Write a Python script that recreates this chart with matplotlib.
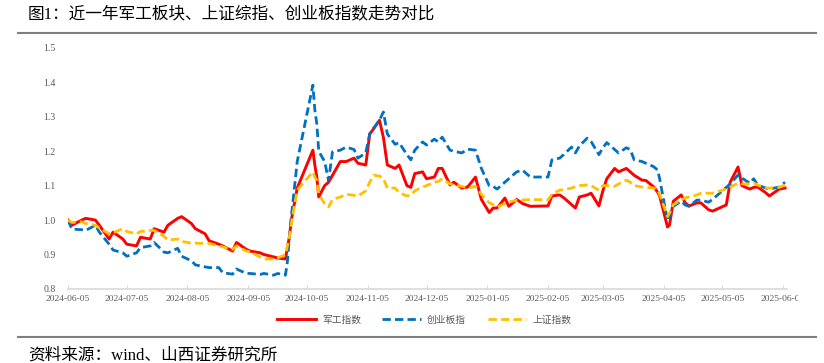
import pandas as pd
import matplotlib.pyplot as plt
import matplotlib.dates as mdates
from matplotlib.transforms import Bbox, TransformedBbox

plt.rcParams['font.family'] = ['Liberation Serif', 'Noto Sans CJK SC', 'DejaVu Sans']

# trading dates sampled from the chart
dates = [
    '2024-06-05', '2024-06-07', '2024-06-12', '2024-06-14', '2024-06-19', '2024-06-21',
    '2024-06-26', '2024-06-28', '2024-07-03', '2024-07-05', '2024-07-10', '2024-07-12',
    '2024-07-17', '2024-07-19', '2024-07-24', '2024-07-26', '2024-07-31', '2024-08-02',
    '2024-08-07', '2024-08-09', '2024-08-14', '2024-08-16', '2024-08-21', '2024-08-23',
    '2024-08-28', '2024-08-30', '2024-09-04', '2024-09-06', '2024-09-11', '2024-09-13',
    '2024-09-18', '2024-09-20', '2024-09-24', '2024-09-25', '2024-09-26', '2024-09-27',
    '2024-09-30', '2024-10-08', '2024-10-09', '2024-10-10', '2024-10-11', '2024-10-14',
    '2024-10-16', '2024-10-18', '2024-10-22', '2024-10-25', '2024-10-29', '2024-10-31',
    '2024-11-04', '2024-11-06', '2024-11-08', '2024-11-11', '2024-11-13', '2024-11-15',
    '2024-11-19', '2024-11-21', '2024-11-25', '2024-11-27', '2024-11-29', '2024-12-03',
    '2024-12-05', '2024-12-09', '2024-12-11', '2024-12-13', '2024-12-17', '2024-12-19',
    '2024-12-23', '2024-12-26', '2024-12-30', '2025-01-02', '2025-01-06', '2025-01-08',
    '2025-01-10', '2025-01-14', '2025-01-16', '2025-01-20', '2025-01-23', '2025-01-27',
    '2025-02-05', '2025-02-07', '2025-02-11', '2025-02-13', '2025-02-17', '2025-02-19',
    '2025-02-21', '2025-02-25', '2025-02-27', '2025-03-03', '2025-03-05', '2025-03-07',
    '2025-03-11', '2025-03-13', '2025-03-17', '2025-03-19', '2025-03-21', '2025-03-25',
    '2025-03-27', '2025-03-31', '2025-04-02', '2025-04-03', '2025-04-07', '2025-04-08',
    '2025-04-10', '2025-04-14', '2025-04-16', '2025-04-18', '2025-04-22', '2025-04-24',
    '2025-04-28', '2025-04-30', '2025-05-07', '2025-05-09', '2025-05-13', '2025-05-15',
    '2025-05-19', '2025-05-21', '2025-05-23', '2025-05-27', '2025-05-29', '2025-06-03',
    '2025-06-06',
]

military = [
    1.000, 0.985, 1.000, 1.005, 1.000, 0.985,
    0.945, 0.965, 0.945, 0.930, 0.925, 0.950,
    0.945, 0.975, 0.965, 0.985, 1.005, 1.010,
    0.990, 0.975, 0.960, 0.940, 0.930, 0.925,
    0.910, 0.935, 0.915, 0.910, 0.905, 0.900,
    0.893, 0.890, 0.887, 0.920, 0.950, 1.000,
    1.093, 1.203, 1.160, 1.125, 1.067, 1.100,
    1.110, 1.130, 1.170, 1.170, 1.180, 1.165,
    1.160, 1.250, 1.265, 1.290, 1.240, 1.160,
    1.150, 1.160, 1.100, 1.095, 1.135, 1.140,
    1.120, 1.125, 1.150, 1.150, 1.102, 1.110,
    1.093, 1.096, 1.125, 1.060, 1.022, 1.035,
    1.035, 1.064, 1.040, 1.060, 1.048, 1.040,
    1.041, 1.070, 1.073, 1.065, 1.045, 1.035,
    1.067, 1.073, 1.078, 1.041, 1.085, 1.120,
    1.150, 1.140, 1.150, 1.140, 1.130, 1.116,
    1.115, 1.096, 1.081, 1.070, 0.980, 0.985,
    1.055, 1.073, 1.050, 1.041, 1.050, 1.050,
    1.030, 1.026, 1.044, 1.110, 1.154, 1.100,
    1.090, 1.095, 1.096, 1.080, 1.070, 1.090,
    1.093,
]

chinext = [
    1.000, 0.974, 0.972, 0.970, 0.985, 0.965,
    0.930, 0.913, 0.905, 0.895, 0.905, 0.920,
    0.925, 0.935, 0.907, 0.905, 0.918, 0.895,
    0.882, 0.870, 0.864, 0.862, 0.862, 0.847,
    0.843, 0.858, 0.845, 0.845, 0.842, 0.845,
    0.840, 0.845, 0.840, 0.880, 0.950, 1.010,
    1.170, 1.392, 1.320, 1.280, 1.200, 1.170,
    1.115, 1.198, 1.203, 1.212, 1.205, 1.180,
    1.195, 1.250, 1.267, 1.290, 1.314, 1.250,
    1.220, 1.225, 1.190, 1.175, 1.203, 1.227,
    1.218, 1.235, 1.227, 1.241, 1.203, 1.200,
    1.195, 1.206, 1.203, 1.150, 1.100, 1.098,
    1.090, 1.110, 1.120, 1.140, 1.145, 1.125,
    1.125, 1.175, 1.180, 1.190, 1.212, 1.195,
    1.215, 1.238, 1.228, 1.190, 1.210, 1.225,
    1.205, 1.195, 1.210, 1.205, 1.175, 1.170,
    1.165, 1.155, 1.145, 1.120, 0.998, 1.010,
    1.040, 1.055, 1.044, 1.040, 1.058, 1.058,
    1.052, 1.060, 1.095, 1.105, 1.131, 1.122,
    1.107, 1.120, 1.102, 1.093, 1.090, 1.096,
    1.110,
]

shanghai = [
    1.000, 0.993, 0.995, 0.990, 0.985, 0.977,
    0.960, 0.963, 0.975, 0.967, 0.960, 0.967,
    0.970, 0.970, 0.953, 0.942, 0.945, 0.938,
    0.933, 0.933, 0.932, 0.932, 0.925, 0.922,
    0.915, 0.925, 0.910, 0.908, 0.893, 0.887,
    0.887, 0.890, 0.900, 0.925, 0.950, 0.990,
    1.087, 1.140, 1.125, 1.115, 1.075, 1.048,
    1.038, 1.060, 1.067, 1.075, 1.072, 1.070,
    1.085, 1.110, 1.130, 1.128, 1.120, 1.093,
    1.093, 1.080, 1.070, 1.072, 1.085, 1.096,
    1.100, 1.110, 1.112, 1.120, 1.105, 1.102,
    1.098, 1.093, 1.098, 1.075, 1.050, 1.045,
    1.038, 1.048, 1.052, 1.058, 1.058, 1.060,
    1.058, 1.075, 1.087, 1.088, 1.093, 1.097,
    1.100, 1.102, 1.100, 1.087, 1.100, 1.100,
    1.098, 1.105, 1.116, 1.110, 1.100, 1.096,
    1.095, 1.093, 1.088, 1.075, 1.010, 1.020,
    1.045, 1.058, 1.065, 1.067, 1.073, 1.078,
    1.078, 1.078, 1.090, 1.096, 1.107, 1.105,
    1.105, 1.108, 1.102, 1.093, 1.093, 1.095,
    1.102,
]

tick_dates = ['2024-06-05', '2024-07-05', '2024-08-05', '2024-09-05', '2024-10-05',
              '2024-11-05', '2024-12-05', '2025-01-05', '2025-02-05', '2025-03-05',
              '2025-04-05', '2025-05-05', '2025-06-05']

x = pd.to_datetime(dates)
grey = '#595959'

fig = plt.figure(figsize=(8.24, 3.63), dpi=100)
ax = fig.add_axes([0.0825, 0.204, 0.8726, 0.664])

ax.plot(x, military, color='#FF0000', lw=2.1, label='军工指数', zorder=2)
ax.plot(x, chinext, color='#0070C0', lw=2.0, dashes=(3, 1.5), label='创业板指', zorder=3)
ax.plot(x, shanghai, color='#FFC000', lw=2.0, dashes=(3, 1.5), label='上证指数', zorder=4)

ax.set_ylim(0.8, 1.5)
ax.set_yticks([0.8, 0.9, 1.0, 1.1, 1.2, 1.3, 1.4, 1.5])
ax.yaxis.set_major_formatter(plt.FormatStrFormatter('%.1f'))
ax.set_xlim(pd.Timestamp('2024-06-05'), pd.Timestamp('2025-06-07'))
ax.set_xticks(pd.to_datetime(tick_dates))
ax.xaxis.set_major_formatter(mdates.DateFormatter('%Y-%m-%d'))

for s in ['top', 'right', 'left']:
    ax.spines[s].set_visible(False)
ax.spines['bottom'].set_color('#D9D9D9')
ax.spines['bottom'].set_linewidth(1.2)
ax.tick_params(axis='y', length=0, pad=9, labelsize=7, labelcolor=grey)
ax.tick_params(axis='x', direction='in', length=3, color='#D9D9D9', pad=4,
               labelsize=6.8, labelcolor=grey)

# the source chart is cut off just past the last date label
fig.canvas.draw()
last = ax.get_xticklabels()[-1]
last.set_clip_on(True)
last.set_clip_box(TransformedBbox(Bbox([[0, 0], [798 / 824, 1]]), fig.transFigure))

leg = fig.legend(loc='center', bbox_to_anchor=(0.515, 0.118), ncol=3, frameon=False,
                 fontsize=7, handlelength=4, columnspacing=2.2, handletextpad=0.6)
for t in leg.get_texts():
    t.set_color(grey)

fig.text(0.033, 0.961, '图1：近一年军工板块、上证综指、创业板指数走势对比',
         fontsize=12, va='center', ha='left')
fig.add_artist(plt.Line2D([0.022, 0.99], [0.909, 0.909], color='#808080', lw=1.5))
fig.add_artist(plt.Line2D([0.022, 0.99], [0.072, 0.072], color='#808080', lw=1.5))
fig.text(0.034, 0.02, '资料来源：wind、山西证券研究所', fontsize=12, va='center', ha='left')

fig.savefig('out.png', dpi=100)
